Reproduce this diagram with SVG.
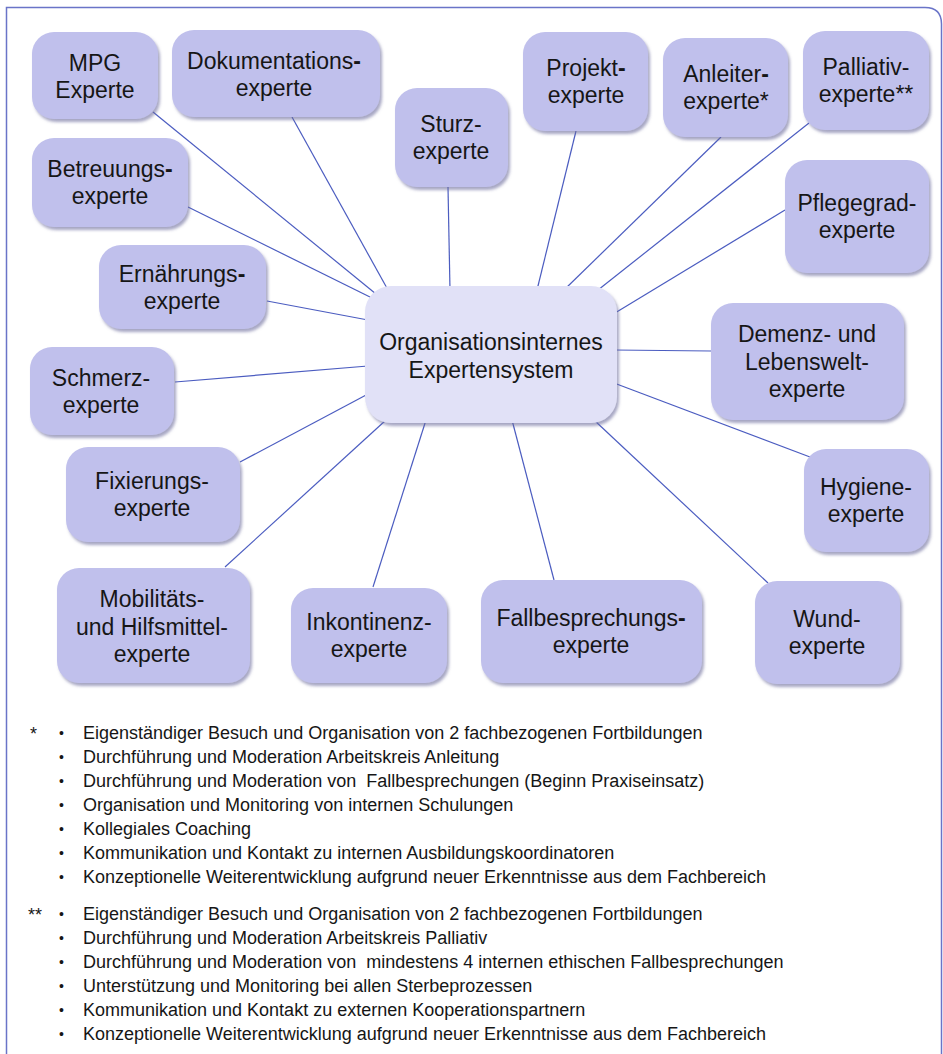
<svg xmlns="http://www.w3.org/2000/svg" width="943" height="1054" viewBox="0 0 943 1054">
<defs>
<filter id="sh" x="-10%" y="-10%" width="125%" height="130%">
<feGaussianBlur in="SourceAlpha" stdDeviation="1.5"/>
<feOffset dx="2" dy="2.5" result="b"/>
<feFlood flood-color="#6c6c9c" flood-opacity="0.6"/>
<feComposite in2="b" operator="in"/>
<feMerge><feMergeNode/><feMergeNode in="SourceGraphic"/></feMerge>
</filter>
</defs>
<style>
.n{fill:#c0c0ec;filter:url(#sh)}
.c{fill:#e1e1f7;filter:url(#sh)}
.t{font-family:"Liberation Sans",Arial,sans-serif;font-size:23px;fill:#161616;text-anchor:middle}
.b{font-weight:bold}
.l{font-family:"Liberation Sans",Arial,sans-serif;font-size:18px;fill:#161616;white-space:pre}
.d{font-family:"Liberation Sans",Arial,sans-serif;font-size:14px;fill:#161616}
.cn line{stroke:#4b5cc0;stroke-width:1.2}
</style>
<rect width="943" height="1054" fill="#fff"/>
<path d="M6.5,1054 V7.5 H925 Q941.5,7.5 941.5,24 V1054" fill="none" stroke="#6a74c8" stroke-width="1.5"/>
<g id="connectors" class="cn">
<line x1="153" y1="112" x2="376" y2="294"/>
<line x1="292" y1="117" x2="388" y2="290"/>
<line x1="188" y1="207" x2="372" y2="298"/>
<line x1="448" y1="187" x2="450" y2="290"/>
<line x1="576" y1="131" x2="537" y2="290"/>
<line x1="721" y1="137" x2="564" y2="290"/>
<line x1="809" y1="123" x2="598" y2="290"/>
<line x1="785" y1="210" x2="615" y2="313"/>
<line x1="267" y1="301" x2="368" y2="320"/>
<line x1="175" y1="382" x2="368" y2="366"/>
<line x1="240" y1="462" x2="368" y2="394"/>
<line x1="225" y1="567" x2="386" y2="420"/>
<line x1="373" y1="587" x2="426" y2="420"/>
<line x1="554" y1="580" x2="512" y2="420"/>
<line x1="768" y1="583" x2="594" y2="420"/>
<line x1="810" y1="457" x2="614" y2="383"/>
<line x1="711" y1="351" x2="614" y2="350"/>
</g>
<g id="center"><rect class="c" x="365" y="286" width="252" height="137" rx="26"/>
<text class="t" x="491" y="350">Organisationsinternes</text><text class="t" x="491" y="378">Expertensystem</text></g>
<g id="mpg"><rect class="n" x="32" y="32" width="126" height="87" rx="22"/>
<text class="t" x="95" y="71">MPG</text><text class="t" x="95" y="98">Experte</text></g>
<g id="doku"><rect class="n" x="172" y="30" width="208" height="87" rx="22"/>
<text class="t" x="274" y="69">Dokumentations<tspan class="b">-</tspan></text><text class="t" x="274" y="96">experte</text></g>
<g id="sturz"><rect class="n" x="395" y="88" width="113" height="99" rx="22"/>
<text class="t" x="451" y="132">Sturz-</text><text class="t" x="451" y="159">experte</text></g>
<g id="projekt"><rect class="n" x="523" y="32" width="125" height="99" rx="22"/>
<text class="t" x="586" y="76">Projekt<tspan class="b">-</tspan></text><text class="t" x="586" y="103">experte</text></g>
<g id="anleiter"><rect class="n" x="663" y="38" width="125" height="99" rx="22"/>
<text class="t" x="726" y="82">Anleiter<tspan class="b">-</tspan></text><text class="t" x="726" y="109">experte*</text></g>
<g id="palliativ"><rect class="n" x="803" y="31" width="126" height="99" rx="22"/>
<text class="t" x="866" y="75">Palliativ-</text><text class="t" x="866" y="102">experte**</text></g>
<g id="betreuung"><rect class="n" x="32" y="138" width="156" height="89" rx="22"/>
<text class="t" x="110" y="177">Betreuungs<tspan class="b">-</tspan></text><text class="t" x="110" y="204">experte</text></g>
<g id="pflegegrad"><rect class="n" x="785" y="160" width="144" height="113" rx="22"/>
<text class="t" x="857" y="211">Pflegegrad-</text><text class="t" x="857" y="238">experte</text></g>
<g id="ernaehrung"><rect class="n" x="99" y="245" width="167" height="84" rx="22"/>
<text class="t" x="182" y="282">Ernährungs<tspan class="b">-</tspan></text><text class="t" x="182" y="309">experte</text></g>
<g id="demenz"><rect class="n" x="711" y="303" width="193" height="117" rx="22"/>
<text class="t" x="807" y="342">Demenz- und</text><text class="t" x="807" y="370">Lebenswelt-</text><text class="t" x="807" y="397">experte</text></g>
<g id="schmerz"><rect class="n" x="30" y="347" width="144" height="88" rx="22"/>
<text class="t" x="101" y="386">Schmerz-</text><text class="t" x="101" y="413">experte</text></g>
<g id="fixierung"><rect class="n" x="66" y="447" width="174" height="95" rx="22"/>
<text class="t" x="152" y="489">Fixierungs-</text><text class="t" x="152" y="516">experte</text></g>
<g id="hygiene"><rect class="n" x="804" y="449" width="125" height="103" rx="22"/>
<text class="t" x="866" y="495">Hygiene-</text><text class="t" x="866" y="522">experte</text></g>
<g id="mobilitaet"><rect class="n" x="57" y="568" width="193" height="115" rx="22"/>
<text class="t" x="152" y="607">Mobilitäts-</text><text class="t" x="152" y="635">und Hilfsmittel-</text><text class="t" x="152" y="662">experte</text></g>
<g id="inkontinenz"><rect class="n" x="291" y="588" width="156" height="95" rx="22"/>
<text class="t" x="369" y="630">Inkontinenz-</text><text class="t" x="369" y="657">experte</text></g>
<g id="fallbesprechung"><rect class="n" x="481" y="580" width="221" height="103" rx="22"/>
<text class="t" x="591" y="626">Fallbesprechungs<tspan class="b">-</tspan></text><text class="t" x="591" y="653">experte</text></g>
<g id="wund"><rect class="n" x="755" y="581" width="145" height="103" rx="22"/>
<text class="t" x="827" y="627">Wund-</text><text class="t" x="827" y="654">experte</text></g>
<g id="notes">
<text class="l" x="30" y="740">*</text>
<text class="l" x="28" y="921">**</text>
<text class="d" x="59" y="738">•</text><text class="l" x="83" y="739">Eigenständiger Besuch und Organisation von 2 fachbezogenen Fortbildungen</text>
<text class="d" x="59" y="762">•</text><text class="l" x="83" y="763">Durchführung und Moderation Arbeitskreis Anleitung</text>
<text class="d" x="59" y="786">•</text><text class="l" x="83" y="787">Durchführung und Moderation von  Fallbesprechungen (Beginn Praxiseinsatz)</text>
<text class="d" x="59" y="810">•</text><text class="l" x="83" y="811">Organisation und Monitoring von internen Schulungen</text>
<text class="d" x="59" y="834">•</text><text class="l" x="83" y="835">Kollegiales Coaching</text>
<text class="d" x="59" y="858">•</text><text class="l" x="83" y="859">Kommunikation und Kontakt zu internen Ausbildungskoordinatoren</text>
<text class="d" x="59" y="882">•</text><text class="l" x="83" y="883">Konzeptionelle Weiterentwicklung aufgrund neuer Erkenntnisse aus dem Fachbereich</text>
<text class="d" x="59" y="919">•</text><text class="l" x="83" y="920">Eigenständiger Besuch und Organisation von 2 fachbezogenen Fortbildungen</text>
<text class="d" x="59" y="943">•</text><text class="l" x="83" y="944">Durchführung und Moderation Arbeitskreis Palliativ</text>
<text class="d" x="59" y="967">•</text><text class="l" x="83" y="968">Durchführung und Moderation von  mindestens 4 internen ethischen Fallbesprechungen</text>
<text class="d" x="59" y="991">•</text><text class="l" x="83" y="992">Unterstützung und Monitoring bei allen Sterbeprozessen</text>
<text class="d" x="59" y="1015">•</text><text class="l" x="83" y="1016">Kommunikation und Kontakt zu externen Kooperationspartnern</text>
<text class="d" x="59" y="1039">•</text><text class="l" x="83" y="1040">Konzeptionelle Weiterentwicklung aufgrund neuer Erkenntnisse aus dem Fachbereich</text>
</g>
</svg>
